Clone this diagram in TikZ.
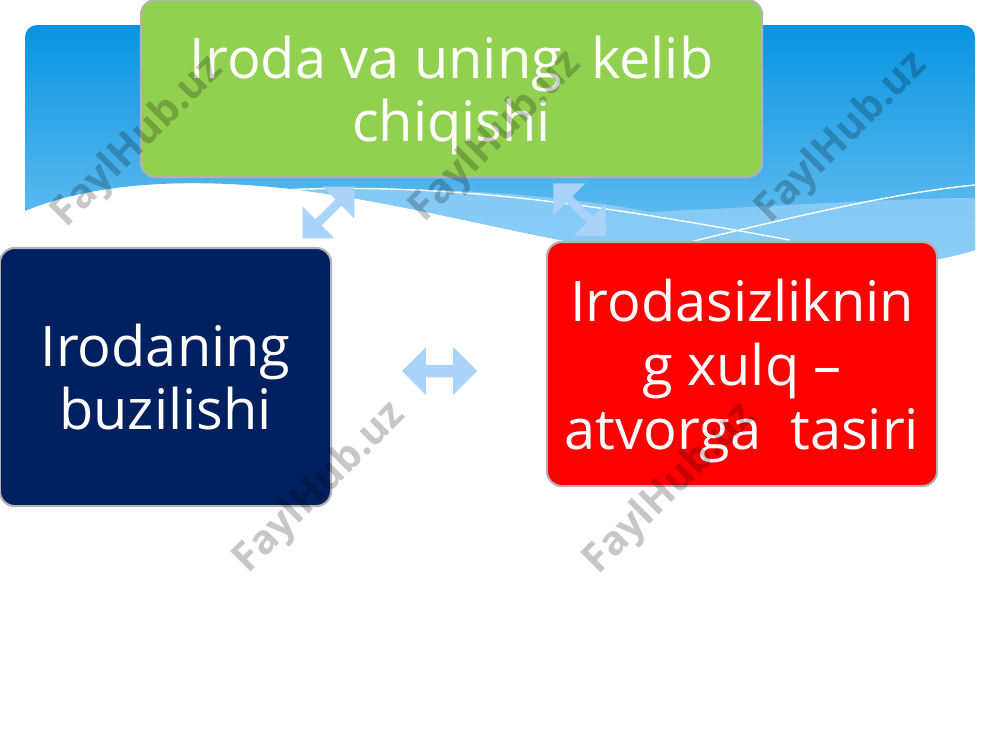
\documentclass[tikz,border=0pt]{standalone}
\usepackage{fontspec}
\setmainfont{Open Sans}
\usetikzlibrary{shapes.arrows}
\definecolor{bandtop}{RGB}{8,148,224}
\definecolor{bandbot}{RGB}{125,200,245}
\definecolor{bandlight}{RGB}{145,208,248}
\definecolor{boxgreen}{RGB}{146,208,80}
\definecolor{boxnavy}{RGB}{0,32,96}
\definecolor{boxred}{RGB}{255,0,0}
\definecolor{arrowblue}{RGB}{170,211,250}
\begin{document}
\begin{tikzpicture}[x=0.01cm,y=-0.01cm,
	box/.style={rounded corners=0.15cm,draw=black!30,line width=0.6pt,text=white,align=center,inner sep=0pt,text depth=0pt,font=\fontsize{15.9}{17.8}\selectfont},
	dblarr/.style={double arrow,fill=arrowblue,inner sep=0pt},
	wmark/.style={rotate=45,text=black,opacity=0.22,font=\bfseries\fontsize{11.5}{12}\selectfont}]
	\useasboundingbox (0,0) rectangle (1000,750);
	\begin{scope}
		\clip (0,0) -- (1000,0) -- (1000,250) -- (975,250) .. controls (930,264) and (850,275) .. (750,268) .. controls (560,250) and (450,210) .. (300,190) .. controls (200,178) and (100,180) .. (25,211) -- (0,211) -- cycle;
		\shade[top color=bandtop,bottom color=bandbot,rounded corners=0.12cm] (25,25) rectangle (975,290);
		\fill[bandlight,opacity=0.8] (280,190) .. controls (400,185) and (550,192) .. (650,212) .. controls (800,205) and (900,198) .. (975,198) -- (975,300) -- (280,300) -- cycle;
		\draw[white,line width=0.4pt] (280,190) .. controls (450,182) and (600,205) .. (790,240);
		\draw[white,line width=0.4pt] (690,242) .. controls (800,215) and (900,192) .. (975,185);
	\end{scope}
	% arrows
	\node[dblarr,rotate=45,minimum height=0.73cm,minimum width=0.45cm,double arrow head extend=0.03cm] (arrleft) at (328.5,212.5) {};
	\node[dblarr,rotate=-45,minimum height=0.74cm,minimum width=0.45cm,double arrow head extend=0.03cm] (arrright) at (579.5,209.5) {};
	\node[dblarr,minimum height=0.75cm,minimum width=0.48cm,double arrow head extend=0.02cm] (arrmid) at (439.5,371) {};
	% boxes
	\node[box,fill=boxgreen,minimum width=6.21cm,minimum height=1.77cm] (origin) at (451.5,88.5) {Iroda va uning\ \ kelib\\chiqishi\ };
	\node[box,fill=boxnavy,minimum width=3.31cm,minimum height=2.58cm] (breach) at (165.5,377) {Irodaning\\buzilishi\ };
	\node[box,fill=boxred,minimum width=3.90cm,minimum height=2.44cm,font=\fontsize{15.9}{18.2}\selectfont] (effect) at (742,364) {Irodasizliknin\\g xulq –\\atvorga\ \ tasiri};
	% watermarks
	\node[wmark] (wm1) at (138,142) {FaylHub.uz};
	\node[wmark] (wm2) at (496,137) {FaylHub.uz};
	\node[wmark] (wm3) at (842,138) {FaylHub.uz};
	\node[wmark] (wm4) at (320,488) {FaylHub.uz};
	\node[wmark] (wm5) at (670,489) {FaylHub.uz};
\end{tikzpicture}
\end{document}
